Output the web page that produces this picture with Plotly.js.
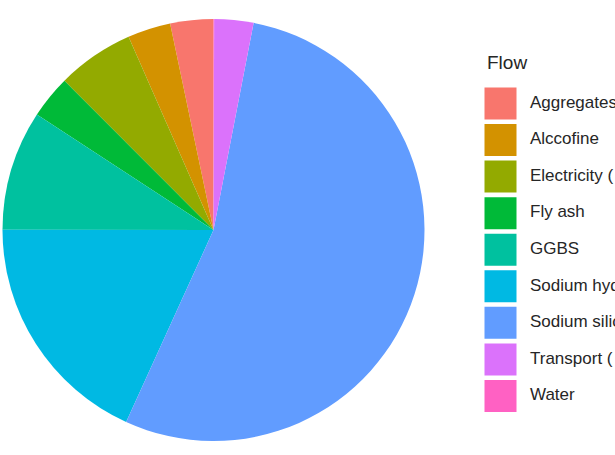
<!DOCTYPE html>
<html>
<head>
<meta charset="utf-8">
<script src="https://cdn.plot.ly/plotly-3.0.1.min.js"></script>
<style>html,body{margin:0;padding:0;background:#fff;}#chart{width:615px;height:455px;}</style>
</head>
<body>
<div id="chart"></div>
<script>
// Data (percent of total)
const categories = ["Aggregates", "Alccofine", "Electricity (", "Fly ash", "GGBS", "Sodium hydroxide", "Sodium silicate", "Transport (", "Water"];
const values = [3.3, 3.3, 5.9, 3.3, 9.2, 18.25, 53.8, 3.0, 0.05];
const colors = ["#F8766D", "#D39200", "#93AA00", "#00BA38", "#00C19F", "#00B9E3", "#619CFF", "#DB72FB", "#FF61C3"];
const legendTitle = "Flow";

const W = 615, H = 455;
// pie geometry
const cx = 213.5, cy = 230, r = 211;
// legend geometry
const keyX = 500.5, textX = 530, row0 = 103.5, pitch = 36.56;

const total = values.reduce((a, b) => a + b, 0);
// Plotly's counterclockwise pies end the first slice at `rotation`; shift so it starts at 12 o'clock
const rot = -values[0] / total * 360;

const pie = {
  type: "pie",
  labels: categories,
  values: values,
  sort: false,
  direction: "counterclockwise",
  rotation: rot,
  textinfo: "none",
  hoverinfo: "label+value",
  marker: {colors: colors, line: {width: 0}},
  showlegend: false,
  domain: {x: [(cx - r) / W, (cx + r) / W], y: [(H - cy - r) / H, (H - cy + r) / H]}
};

const idx = categories.map((_, i) => i);
const keys = {
  type: "scatter", mode: "markers", xaxis: "x", yaxis: "y",
  x: categories.map(() => 0), y: idx,
  marker: {symbol: "square", size: 32, color: colors, line: {width: 0}},
  showlegend: false, hoverinfo: "skip", cliponaxis: false
};
const labels = {
  type: "scatter", mode: "text", xaxis: "x", yaxis: "y",
  x: categories.map(() => 1), y: idx, text: categories,
  textposition: "middle right",
  textfont: {family: "Liberation Sans, Arial, sans-serif", size: 17, color: "#262626"},
  showlegend: false, hoverinfo: "skip", cliponaxis: false
};

const ppx = textX - keyX;
const lo = -row0 / pitch;
const layout = {
  width: W, height: H,
  margin: {l: 0, r: 0, t: 0, b: 0},
  paper_bgcolor: "#ffffff", plot_bgcolor: "rgba(0,0,0,0)",
  showlegend: false,
  xaxis: {domain: [0, 1], range: [-keyX / ppx, (W - keyX) / ppx], visible: false, fixedrange: true},
  yaxis: {domain: [0, 1], range: [lo + H / pitch, lo], visible: false, fixedrange: true},
  annotations: [{
    text: legendTitle, xref: "paper", yref: "paper",
    x: 485 / W, y: 1 - 63 / H, xanchor: "left", yanchor: "middle",
    showarrow: false,
    font: {family: "Liberation Sans, Arial, sans-serif", size: 19, color: "#262626"}
  }]
};

Plotly.newPlot("chart", [pie, keys, labels], layout, {displayModeBar: false, staticPlot: true});
</script>
</body>
</html>
